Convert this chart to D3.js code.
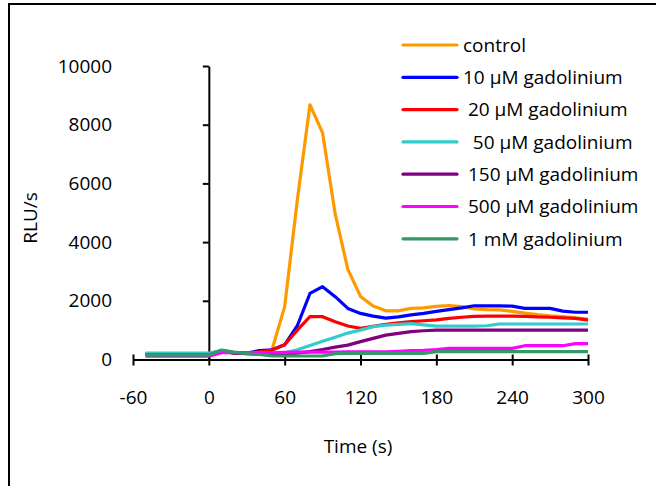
<!DOCTYPE html>
<html>
<head>
<meta charset="utf-8">
<script src="https://cdn.jsdelivr.net/npm/d3@7"></script>
<style>
  body { margin: 0; background: #fff; }
  svg text { font-family: "Open Sans", sans-serif; fill: #000; }
</style>
</head>
<body>
<div class="canvas"></div>
<script>
// time points every 10 s
const times = d3.range(-50, 301, 10)

const seriesNames = ['control', '10 µM gadolinium', ' 20 µM gadolinium', '  50 µM gadolinium',
  ' 150 µM gadolinium', ' 500 µM gadolinium', ' 1 mM gadolinium']
const colours = ['#ff9900', '#0000ff', '#ff0000', '#33cccc', '#800080', '#ff00ff', '#339966']

const control = [150,150,150,150,150,150,300,220,220,230,330,1800,5430,8680,7720,4950,3070,2150,1820,1660,
  1660,1740,1760,1810,1840,1800,1720,1700,1690,1640,1580,1530,1490,1460,1420,1380]
const gd10 = [180,180,180,180,180,180,300,220,220,300,330,500,1150,2250,2480,2140,1740,1570,1480,1410,
  1450,1520,1570,1640,1700,1760,1830,1830,1830,1820,1740,1740,1740,1650,1610,1610]
const gd20 = [180,180,180,180,180,180,300,220,220,260,320,500,1000,1460,1460,1290,1140,1060,1130,1200,
  1250,1290,1320,1350,1400,1440,1470,1480,1480,1480,1470,1450,1440,1420,1400,1340]
const gd50 = [220,220,220,220,220,220,300,230,220,220,220,230,330,480,620,760,900,1000,1120,1170,
  1200,1220,1180,1140,1140,1140,1140,1150,1210,1210,1210,1210,1210,1210,1210,1210]
const gd150 = [150,150,150,150,150,150,280,220,200,180,180,190,220,270,340,420,490,610,720,830,
  890,950,980,1000,1000,1000,1000,1000,1000,1000,1000,1000,1000,1000,1000,1000]
const gd500 = [110,110,110,110,110,110,230,230,230,230,230,240,250,250,250,250,260,260,260,260,
  280,300,310,340,380,380,380,380,380,380,470,470,470,470,540,540]
const gd1000 = [150,150,150,150,150,150,320,250,200,170,120,120,120,120,120,200,210,210,210,210,
  210,210,210,270,270,270,270,270,270,270,270,270,270,270,270,270]

const seriesValues = [control, gd10, gd20, gd50, gd150, gd500, gd1000]

const xTicks = [-60, 0, 60, 120, 180, 240, 300]
const yTicks = [0, 2000, 4000, 6000, 8000, 10000]

const dims = {width: 656, height: 486}

const svg = d3.select('.canvas')
  .append('svg')
  .attr('width', dims.width)
  .attr('height', dims.height)

// outer frame (right/bottom edges fall outside the picture)
svg.append('rect')
  .attr('x', 9).attr('y', 4)
  .attr('width', 800).attr('height', 700)
  .attr('fill', 'none')
  .attr('stroke', '#000')
  .attr('stroke-width', 2)

const x = d3.scaleLinear().domain([-60, 300]).range([133, 588])
const y = d3.scaleLinear().domain([0, 10000]).range([359.5, 66])

// x axis, ticks crossing the line
const xAxis = svg.append('g')
  .attr('transform', `translate(0, ${y(0)})`)
  .call(d3.axisBottom(x).tickValues(xTicks).tickSize(6).tickSizeOuter(0).tickFormat(d => String(d)))
xAxis.select('.domain').attr('stroke', '#000').attr('stroke-width', 2)
xAxis.selectAll('.tick line').attr('y1', -5).attr('stroke', '#000').attr('stroke-width', 2)
xAxis.selectAll('.tick text')
  .attr('y', 44)
  .attr('dy', 0)
  .style('font-size', '19px')
  .style('font-family', '"Open Sans", sans-serif')

// y axis at time 0
const yAxis = svg.append('g')
  .attr('transform', `translate(${x(0)}, 0)`)
  .call(d3.axisLeft(y).tickValues(yTicks).tickSize(6).tickSizeOuter(0).tickFormat(d => String(d)))
yAxis.select('.domain').attr('stroke', '#000').attr('stroke-width', 2)
yAxis.selectAll('.tick line').attr('stroke', '#000').attr('stroke-width', 2)
// labels sit at the left edge of the plot area, not at the axis
yAxis.selectAll('.tick text')
  .attr('x', 112 - x(0))
  .style('font-size', '19px')
  .style('font-family', '"Open Sans", sans-serif')

// lines
const line = d3.line()
  .x((d, i) => x(times[i]))
  .y(d => y(d))

svg.append('g').selectAll('path')
  .data(seriesValues)
  .enter()
  .append('path')
  .attr('d', line)
  .attr('fill', 'none')
  .attr('stroke', (d, i) => colours[i])
  .attr('stroke-width', 3.2)
  .attr('stroke-linejoin', 'round')

// axis titles
svg.append('text')
  .attr('x', 358).attr('y', 453)
  .attr('text-anchor', 'middle')
  .style('font-size', '19px')
  .text('Time (s)')

svg.append('text')
  .attr('transform', 'translate(37, 218) rotate(-90)')
  .attr('text-anchor', 'middle')
  .style('font-size', '19px')
  .text('RLU/s')

// legend
const legendGroup = svg.append('g')
  .attr('transform', 'translate(403, 45)')

const rows = legendGroup.selectAll('g')
  .data(seriesNames)
  .enter()
  .append('g')
  .attr('transform', (d, i) => `translate(0, ${i * 32.3})`)

rows.append('line')
  .attr('x1', 0).attr('x2', 54)
  .attr('stroke', (d, i) => colours[i])
  .attr('stroke-width', 3.2)
  .attr('stroke-linecap', 'round')

rows.append('text')
  .attr('x', 60)
  .attr('dy', '0.36em')
  .attr('xml:space', 'preserve')
  .style('white-space', 'pre')
  .style('font-size', '19px')
  .text(d => d)
</script>
</body>
</html>
